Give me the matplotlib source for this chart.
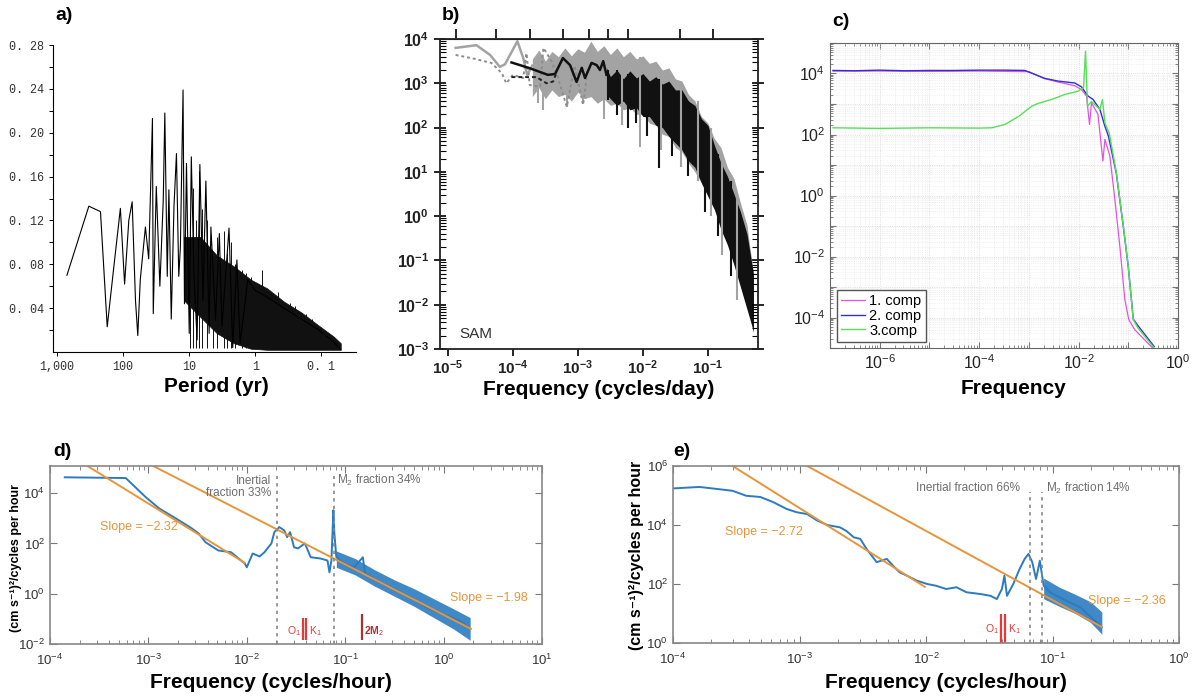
import matplotlib
matplotlib.use('Agg')
import matplotlib.pyplot as plt
import numpy as np
from matplotlib.ticker import LogLocator, NullLocator, NullFormatter, FixedLocator

plt.rcParams['font.family'] = ['Liberation Sans', 'DejaVu Sans']
plt.rcParams['mathtext.fontset'] = 'custom'
plt.rcParams['mathtext.rm'] = 'Liberation Sans'
plt.rcParams['mathtext.it'] = 'Liberation Sans:italic'
plt.rcParams['mathtext.bf'] = 'Liberation Sans:bold'

# ---------------- panel a: period (yr) vs power ----------------
a_period = [708, 330, 220, 174, 138, 110, 95, 82, 73, 65, 60, 55, 46, 41, 36, 35, 31.5,
            27.8, 24.7, 23.4, 21.5, 20.3, 18.7, 17, 15.6, 14.4, 13.6, 12.4, 11.8, 11, 10,
            9.3, 8.5, 7.6, 6.9, 6.2, 5.6, 5.0, 4.7, 4.0, 3.5, 3.2, 2.5, 2.2, 1.9, 1.7, 1.3,
            1.0, 0.66, 0.37, 0.2, 0.115, 0.065, 0.051]
a_power = [0.070, 0.133, 0.128, 0.023, 0.078, 0.131, 0.062, 0.120, 0.137, 0.047, 0.015,
           0.066, 0.114, 0.085, 0.213, 0.035, 0.151, 0.060, 0.139, 0.218, 0.069, 0.148,
           0.030, 0.133, 0.181, 0.069, 0.096, 0.239, 0.044, 0.172, 0.017, 0.178, 0.072,
           0.011, 0.171, 0.047, 0.156, 0.017, 0.114, 0.029, 0.108, 0.023, 0.113, 0.004,
           0.084, 0.008, 0.066, 0.056, 0.050, 0.040, 0.030, 0.021, 0.009, 0.002]
# envelope of the dense short-period part
a_env_period = [12, 6.8, 3.8, 2.1, 1.17, 0.66, 0.37, 0.2, 0.115, 0.065, 0.051]
a_env_hi = [0.105, 0.105, 0.088, 0.078, 0.066, 0.058, 0.046, 0.036, 0.025, 0.014, 0.008]
a_env_lo = [0.047, 0.032, 0.017, 0.008, 0.003, 0.002, 0.002, 0.002, 0.002, 0.002, 0.002]
# isolated spikes rising out of the dense part
a_spk_period = [9.8, 8.9, 8.0, 7.2, 6.5, 5.3, 4.4, 3.8, 3.0, 2.7, 2.3, 2.0, 1.6, 1.4,
                1.15, 0.9, 0.8, 0.55, 0.45, 0.3, 0.25, 0.17, 0.14]
a_spk_top = [0.110, 0.150, 0.120, 0.165, 0.130, 0.120, 0.090, 0.105, 0.110, 0.090, 0.100,
             0.080, 0.075, 0.072, 0.068, 0.062, 0.075, 0.052, 0.055, 0.045, 0.042, 0.035,
             0.030]
a_xticks = [1000, 100, 10, 1, 0.1]
a_xlabels = ['1,000', '100', '10', '1', '0. 1']
a_yticks = [0.04, 0.08, 0.12, 0.16, 0.20, 0.24, 0.28]
a_ylabels = ['0. 04', '0. 08', '0. 12', '0. 16', '0. 20', '0. 24', '0. 28']
a_yminor = [0.02, 0.06, 0.10, 0.14, 0.18, 0.22, 0.26]

# ---------------- panel b: SAM spectra (log10 values) ----------------
b_gray_lf = [-4.88, -4.56, -4.35, -4.20, -4.12, -3.93, -3.84, -3.78, -3.70]
b_gray_lp = [3.80, 3.86, 3.64, 3.37, 3.43, 3.95, 3.57, 3.19, 3.40]
b_gray_env_lf = [-3.70, -3.60, -3.50, -3.40, -3.30, -3.20, -3.10, -3.00, -2.90, -2.80,
                 -2.70, -2.60, -2.50, -2.40, -2.30, -2.20, -2.10, -2.00, -1.90, -1.80,
                 -1.70, -1.60, -1.50, -1.40, -1.30, -1.20, -1.10, -1.00, -0.90, -0.80,
                 -0.70, -0.60, -0.50, -0.40, -0.30]
b_gray_env_hi = [3.55, 3.75, 3.50, 3.72, 3.60, 3.80, 3.62, 3.78, 3.70, 3.95, 3.72, 3.85,
                 3.65, 3.80, 3.60, 3.72, 3.55, 3.62, 3.45, 3.50, 3.30, 3.35, 3.10, 3.05,
                 2.75, 2.60, 2.25, 2.10, 1.75, 1.55, 1.10, 0.85, 0.30, -0.20, -1.30]
b_gray_env_lo = [2.70, 2.90, 2.65, 2.85, 2.70, 2.75, 2.60, 2.80, 2.65, 2.70, 2.55, 2.65,
                 2.50, 2.55, 2.40, 2.45, 2.30, 2.30, 2.10, 2.05, 1.85, 1.80, 1.55, 1.45,
                 1.20, 1.00, 0.75, 0.45, 0.15, -0.20, -0.55, -0.90, -1.40, -1.90, -2.65]
b_dot_lf = [-4.88, -4.61, -4.33, -4.17, -4.10, -4.00, -3.84, -3.79, -3.74, -3.58, -3.53,
            -3.40, -3.30, -3.17, -3.05, -2.92, -2.85]
b_dot_lp = [3.64, 3.56, 3.46, 3.23, 3.00, 3.19, 3.12, 3.68, 2.96, 2.92, 3.80, 3.49, 3.10,
            2.47, 3.40, 2.51, 3.30]
b_black_lf = [-4.02, -3.74, -3.46, -3.35, -3.23, -3.12, -3.02, -2.94, -2.89, -2.79, -2.71,
              -2.66, -2.61, -2.56]
b_black_lp = [3.47, 3.34, 3.19, 3.21, 3.57, 3.41, 3.03, 3.35, 3.12, 3.46, 3.41, 3.30,
              3.50, 3.19]
b_black_env_lf = [-2.56, -2.50, -2.40, -2.30, -2.20, -2.10, -2.00, -1.90, -1.80, -1.70,
                  -1.60, -1.50, -1.40, -1.30, -1.20, -1.10, -1.00, -0.90, -0.80, -0.70,
                  -0.60, -0.50, -0.40, -0.30]
b_black_env_hi = [3.35, 3.15, 3.30, 3.10, 3.28, 3.12, 3.22, 3.05, 3.15, 2.98, 3.05, 2.85,
                  2.85, 2.60, 2.50, 2.20, 2.05, 1.60, 1.20, 0.90, 0.50, 0.10, -0.40, -1.30]
b_black_env_lo = [2.75, 2.65, 2.50, 2.60, 2.40, 2.45, 2.25, 2.25, 2.05, 2.00, 1.80, 1.65,
                  1.50, 1.25, 1.10, 0.75, 0.45, 0.15, -0.30, -0.65, -1.10, -1.60, -2.10,
                  -2.60]
b_dash_lf = [-4.02, -3.64, -3.48, -3.38, -3.34]
b_dash_lp = [3.14, 3.14, 3.00, 3.04, 3.20]
b_gray_spk_lf = [-3.62, -3.54, -3.17, -2.92, -2.60, -2.32, -2.05, -1.72, -1.42, -1.15,
                 -0.95, -0.79, -0.55]
b_gray_spk_lo = [2.55, 2.40, 2.47, 2.55, 2.20, 2.05, 1.57, 1.50, 1.10, 0.80, 0.00, -0.88,
                 -1.90]
b_gray_spk_hi = [3.50, 3.60, 3.70, 3.70, 3.60, 3.50, 3.60, 3.30, 3.00, 2.60, 2.00, 1.30,
                 0.50]
b_black_spk_lf = [-2.54, -2.40, -2.23, -2.10, -1.93, -1.75, -1.55, -1.30, -1.05, -0.85,
                  -0.65]
b_black_spk_lo = [2.62, 2.28, 1.98, 2.10, 1.80, 1.09, 1.35, 0.90, 0.10, -0.45, -1.35]
b_black_spk_hi = [3.30, 3.30, 3.20, 3.10, 3.10, 3.10, 2.90, 2.60, 2.00, 1.40, 0.80]
b_top_ticks = [1.32e-5, 5.6e-5, 1.82e-4, 5.9e-4, 1.48e-3, 2.88e-3, 6.0e-3, 3.7e-2, 0.12]

# ---------------- panel c: three components (log10 values) ----------------
c1_logf = [-6.94, -6.0, -5.0, -4.0, -3.0, -2.7, -2.41, -2.08, -1.94, -1.84, -1.78, -1.74,
           -1.61, -1.51, -1.47, -1.37, -1.27, -1.17, -1.07, -0.99, -0.87, -0.51]
c1_logp = [4.08, 4.08, 4.07, 4.08, 4.06, 3.84, 3.72, 3.60, 3.47, 3.26, 2.33, 3.04, 2.66,
           1.13, 1.84, 1.29, -0.13, -1.66, -3.41, -4.07, -4.40, -5.0]
c2_logf = [-6.94, -6.5, -6.0, -5.5, -5.0, -4.5, -4.0, -3.5, -3.08, -2.88, -2.68, -2.41,
           -2.08, -1.94, -1.81, -1.71, -1.57, -1.47, -1.40, -1.24, -1.10, -1.00, -0.90,
           -0.80, -0.48]
c2_logp = [4.10, 4.09, 4.11, 4.09, 4.10, 4.10, 4.11, 4.11, 4.10, 3.97, 3.84, 3.75, 3.69,
           3.56, 3.26, 3.15, 2.82, 2.27, 1.95, 0.72, -1.02, -2.34, -4.05, -4.28, -4.95]
c3_logf = [-6.94, -6.0, -5.0, -4.0, -3.74, -3.48, -3.20, -2.94, -2.81, -2.54, -2.28, -2.01,
           -1.90, -1.86, -1.82, -1.74, -1.57, -1.52, -1.47, -1.38, -1.24, -1.10, -1.00,
           -0.90, -0.81, -0.48]
c3_logp = [2.22, 2.20, 2.22, 2.21, 2.22, 2.33, 2.60, 2.93, 3.02, 3.15, 3.31, 3.42, 3.54,
           4.73, 2.93, 3.08, 2.82, 3.15, 2.38, 2.03, 0.75, -1.00, -2.32, -4.07, -4.33, -5.0]
c_names = ['1. comp', '2. comp', '3.comp']

# ---------------- panel d (log10 values) ----------------
d_lf = [-3.85, -3.23, -3.03, -2.89, -2.69, -2.56, -2.49, -2.42, -2.29, -2.16, -2.02, -2.00,
        -1.94, -1.87, -1.82, -1.75, -1.72, -1.67, -1.62, -1.59, -1.56, -1.52, -1.48, -1.41,
        -1.35, -1.25, -1.18, -1.16, -1.14, -1.12, -1.11, -1.09, -1.01, -0.91, -0.82, -0.80,
        -0.68, -0.51, -0.34, -0.17, -0.01, 0.16, 0.26]
d_lp = [4.63, 4.60, 3.85, 3.39, 2.92, 2.60, 2.40, 2.05, 1.72, 1.65, 1.20, 1.05, 1.60, 1.48,
        1.65, 2.00, 2.45, 2.65, 2.52, 2.25, 2.45, 1.85, 1.80, 2.00, 1.45, 1.40, 1.32, 0.85,
        1.32, 3.32, 2.40, 1.45, 1.19, 1.05, 1.45, 0.83, 0.52, 0.20, -0.15, -0.55, -0.81,
        -1.08, -1.35]
d_band_lf = [-1.09, -0.90, -0.70, -0.50, -0.30, -0.10, 0.10, 0.27]
d_band_hi = [1.70, 1.40, 0.95, 0.55, 0.20, -0.20, -0.60, -0.95]
d_band_lo = [1.05, 0.75, 0.30, -0.10, -0.50, -0.95, -1.40, -1.85]
d_fit1_f, d_fit1_p = [2.4e-4, 9.5e-3], [1.2e5, 17]
d_fit2_f, d_fit2_p = [1.12e-3, 1.9], [1.2e5, 0.04]
d_inertial, d_m2 = 0.0205, 0.077
d_o1, d_k1, d_2m2 = 0.037, 0.040, 0.148

# ---------------- panel e (log10 values) ----------------
e_lf = [-4.00, -3.79, -3.53, -3.42, -3.31, -3.21, -3.10, -3.02, -2.94, -2.86, -2.78, -2.68,
        -2.63, -2.57, -2.52, -2.47, -2.39, -2.31, -2.26, -2.21, -2.15, -2.07, -1.99, -1.92,
        -1.84, -1.76, -1.68, -1.57, -1.49, -1.44, -1.40, -1.38, -1.36, -1.31, -1.26, -1.22,
        -1.19, -1.16, -1.13, -1.10, -1.07, -1.02, -0.89, -0.78, -0.68, -0.61]
e_lp = [5.24, 5.29, 5.16, 4.99, 4.95, 4.78, 4.54, 4.43, 4.37, 4.15, 4.00, 3.92, 3.80, 3.58,
        3.53, 3.19, 2.74, 2.85, 2.62, 2.40, 2.28, 2.11, 2.00, 1.94, 1.83, 1.89, 1.72, 1.66,
        1.60, 1.49, 1.83, 2.28, 1.60, 2.00, 2.51, 2.85, 3.02, 2.74, 2.17, 2.79, 1.94, 1.72,
        1.43, 1.21, 0.81, 0.53]
e_band_lf = [-1.07, -0.95, -0.82, -0.70, -0.61]
e_band_hi = [2.20, 1.90, 1.65, 1.40, 1.05]
e_band_lo = [1.50, 1.25, 1.00, 0.70, 0.30]
e_fit1_f, e_fit1_p = [2.96e-4, 9.8e-3], [1e6, 80]
e_fit2_f, e_fit2_p = [1.15e-3, 0.245], [1e6, 3.5]
e_inertial, e_m2 = 0.067, 0.083
e_o1, e_k1 = 0.039, 0.042

# colours
BLUE_DE = '#2b7bc0'
ORANGE = '#e8953a'
GREY_TXT = '#6e6e6e'
RED = '#e23b3b'
DARK_RED = '#b0302e'

W, H = 1200, 699


def box(l, t, r, b):
    return [l / W, 1 - b / H, (r - l) / W, (b - t) / H]


def ftext(px, py, s, **kw):
    fig.text(px / W, 1 - py / H, s, **kw)


def p10(v):
    return 10.0 ** np.asarray(v)


def log_labels(exps, bold=False, skip_odd=False):
    out = []
    for e in exps:
        if skip_odd and e % 2:
            out.append('')
        elif bold:
            out.append(r'$\mathbf{10^{%d}}$' % e)
        else:
            out.append(r'$10^{%d}$' % e)
    return out


fig = plt.figure(figsize=(12, 6.99), dpi=100)

# ===== a =====
ax_a = fig.add_axes(box(53, 45, 356, 352))
ax_a.fill_between(a_env_period, a_env_lo, a_env_hi, color='#111111', lw=0.5)
ax_a.vlines(a_spk_period, 0.004, a_spk_top, color='#111111', lw=0.7)
ax_a.plot(a_period, a_power, color='k', lw=0.8)
ax_a.set_xscale('log')
ax_a.set_xlim(1150, 0.03)
ax_a.set_ylim(0, 0.28)
for s in ('top', 'right'):
    ax_a.spines[s].set_visible(False)
ax_a.set_xticks(a_xticks, labels=a_xlabels)
ax_a.xaxis.set_minor_locator(NullLocator())
ax_a.set_yticks(a_yticks, labels=a_ylabels)
ax_a.yaxis.set_minor_locator(FixedLocator(a_yminor))
ax_a.tick_params(which='both', direction='out', length=3, width=0.7, labelsize=8.5,
                 labelcolor='#333333')
for lab in ax_a.get_xticklabels() + ax_a.get_yticklabels():
    lab.set_family('Liberation Mono')
ftext(216, 387, 'Period (yr)', fontsize=15, fontweight='bold', ha='center', va='center')
ftext(55, 16, 'a)', fontsize=14, fontweight='bold', va='center')

# ===== b =====
ax_b = fig.add_axes(box(440, 39, 758, 349))
ax_b.set_xscale('log')
ax_b.set_yscale('log')
ax_b.fill_between(p10(b_gray_env_lf), p10(b_gray_env_lo), p10(b_gray_env_hi),
                  color='#a3a3a3', lw=0)
ax_b.vlines(p10(b_gray_spk_lf), p10(b_gray_spk_lo), p10(b_gray_spk_hi), color='#a3a3a3', lw=1.5)
ax_b.plot(p10(b_gray_lf), p10(b_gray_lp), color='#a3a3a3', lw=1.8)
ax_b.plot(p10(b_dot_lf), p10(b_dot_lp), color='#8c8c8c', lw=1.4, ls=(0, (1.5, 1.5)))
ax_b.fill_between(p10(b_black_env_lf), p10(b_black_env_lo), p10(b_black_env_hi),
                  color='#111111', lw=0)
ax_b.vlines(p10(b_black_spk_lf), p10(b_black_spk_lo), p10(b_black_spk_hi), color='#111111', lw=1.5)
ax_b.plot(p10(b_black_lf), p10(b_black_lp), color='#111111', lw=1.8)
ax_b.plot(p10(b_dash_lf), p10(b_dash_lp), color='#222222', lw=1.4, ls=(0, (2, 1.5)))
ax_b.set_xlim(10 ** -5.12, 10 ** -0.23)
ax_b.set_ylim(1e-3, 1e4)
ax_b.set_xticks(p10(range(-5, 0)), labels=log_labels(range(-5, 0), bold=True))
ax_b.xaxis.set_minor_locator(NullLocator())
ax_b.set_yticks(p10(range(-3, 5)), labels=log_labels(range(-3, 5), bold=True))
ax_b.yaxis.set_minor_locator(LogLocator(base=10, subs=np.arange(2, 10), numticks=60))
ax_b.yaxis.set_minor_formatter(NullFormatter())
ax_b.tick_params(axis='y', which='major', direction='inout', length=9, width=1.2,
                 left=True, right=True, labelsize=11.5, labelcolor='#222222')
ax_b.tick_params(axis='y', which='minor', direction='in', length=4, width=0.8,
                 left=True, right=True)
ax_b.tick_params(axis='x', which='major', direction='out', length=5, width=1.2,
                 top=False, labelsize=11, labelcolor='#222222', pad=2)
for s in ax_b.spines.values():
    s.set_linewidth(1.3)
    s.set_color('#222222')
sec = ax_b.secondary_xaxis('top')
sec.set_xticks(b_top_ticks)
sec.set_xticklabels([])
sec.xaxis.set_minor_locator(NullLocator())
sec.tick_params(direction='out', length=7, width=1.2)
ax_b.text(0.06, 0.035, 'SAM', transform=ax_b.transAxes, fontsize=11, color='#333333')
ftext(599, 390, 'Frequency (cycles/day)', fontsize=15, fontweight='bold', ha='center',
      va='center')
ftext(442, 16, 'b)', fontsize=14, fontweight='bold', va='center')

# ===== c =====
ax_c = fig.add_axes(box(830, 43, 1178, 348))
ax_c.set_xscale('log')
ax_c.set_yscale('log')
l1, = ax_c.plot(p10(c1_logf), p10(c1_logp), color='#e055e0', lw=0.9)
l2, = ax_c.plot(p10(c2_logf), p10(c2_logp), color='#2f2fd8', lw=1.0)
l3, = ax_c.plot(p10(c3_logf), p10(c3_logp), color='#55e055', lw=1.0)
ax_c.set_xlim(1.15e-7, 1.0)
ax_c.set_ylim(1e-5, 1e5)
ax_c.set_xticks(p10(range(-7, 1)), labels=log_labels(range(-7, 1), skip_odd=True))
ax_c.set_yticks(p10(range(-5, 6)), labels=log_labels(range(-5, 6), skip_odd=True))
for axis in (ax_c.xaxis, ax_c.yaxis):
    axis.set_minor_locator(LogLocator(base=10, subs=np.arange(2, 10), numticks=100))
    axis.set_minor_formatter(NullFormatter())
ax_c.tick_params(which='both', direction='in', top=True, right=True, labelsize=11.5,
                 labelcolor='#222222', color='#777777')
ax_c.tick_params(which='major', length=4)
ax_c.tick_params(which='minor', length=2)
ax_c.grid(True, which='major', color='#d5d5d5', lw=0.6, ls=':')
ax_c.grid(True, which='minor', color='#e4e4e4', lw=0.5, ls=':')
for s in ax_c.spines.values():
    s.set_color('#666666')
    s.set_linewidth(0.8)
ax_c.legend([l1, l2, l3], c_names, loc='lower left', bbox_to_anchor=(0.02, 0.02),
            borderaxespad=0, fontsize=10.5, handlelength=1.6, handletextpad=0.3,
            labelspacing=0.05, borderpad=0.3, fancybox=False, edgecolor='#555555',
            framealpha=1)
ftext(1013, 389, 'Frequency', fontsize=15, fontweight='bold', ha='center', va='center')
ftext(832, 21, 'c)', fontsize=14, fontweight='bold', va='center')


def style_de(ax, xexps, yexps):
    ax.set_xticks(p10(xexps), labels=log_labels(xexps))
    ax.xaxis.set_minor_locator(LogLocator(base=10, subs=np.arange(2, 10), numticks=60))
    ax.xaxis.set_minor_formatter(NullFormatter())
    ax.set_yticks(p10(yexps), labels=log_labels(yexps))
    ax.yaxis.set_minor_locator(NullLocator())
    ax.tick_params(which='both', direction='in', top=True, right=True, labelsize=9.5,
                   labelcolor='#333333', color='#777777')
    ax.tick_params(which='major', length=5)
    ax.tick_params(which='minor', length=3)
    ax.tick_params(axis='x', pad=6)
    for s in ax.spines.values():
        s.set_color('#888888')
        s.set_linewidth(1.2)


# ===== d =====
ax_d = fig.add_axes(box(50, 466, 542, 644))
ax_d.set_xscale('log')
ax_d.set_yscale('log')
ax_d.fill_between(p10(d_band_lf), p10(d_band_lo), p10(d_band_hi), color=BLUE_DE, lw=0,
                  alpha=0.9)
ax_d.plot(p10(d_lf), p10(d_lp), color=BLUE_DE, lw=1.4)
ax_d.plot(d_fit1_f, d_fit1_p, color=ORANGE, lw=1.4)
ax_d.plot(d_fit2_f, d_fit2_p, color=ORANGE, lw=1.4)
ax_d.vlines([d_inertial, d_m2], 1e-2, 10 ** 4.68, colors='#888888', lw=1.2,
            linestyles=(0, (2, 2.5)))
ax_d.vlines([d_o1, d_k1], 10 ** -1.84, 10 ** -0.95, colors=RED, lw=1.6)
ax_d.vlines([d_2m2], 10 ** -1.84, 10 ** -0.8, colors=DARK_RED, lw=1.6)
ax_d.set_xlim(1e-4, 10)
ax_d.set_ylim(1e-2, 1.2e5)
style_de(ax_d, list(range(-4, 2)), [-2, 0, 2, 4])
ax_d.text(0.0178, 10 ** 4.24, 'Inertial\nfraction 33%', ha='right', va='center',
          fontsize=8.5, color=GREY_TXT, linespacing=1.0)
ax_d.text(0.083, 10 ** 4.52, r'M$_2$ fraction 34%', ha='left', va='center', fontsize=8.5,
          color=GREY_TXT)
ax_d.text(3.2e-4, 10 ** 2.64, 'Slope = \u22122.32', ha='left', va='center', fontsize=9,
          color=ORANGE)
ax_d.text(1.15, 10 ** -0.16, 'Slope = \u22121.98', ha='left', va='center', fontsize=9,
          color=ORANGE)
ax_d.text(0.0355, 10 ** -1.48, r'O$_1$', ha='right', va='center', fontsize=7.5, color=RED)
ax_d.text(0.043, 10 ** -1.48, r'K$_1$', ha='left', va='center', fontsize=7.5, color=RED)
ax_d.text(0.156, 10 ** -1.48, r'2M$_2$', ha='left', va='center', fontsize=7.5,
          color=DARK_RED, fontweight='bold')
ftext(16, 558, '(cm s\u207b\u00b9)\u00b2/cycles per hour', rotation=90, fontsize=9,
      fontweight='bold', ha='center', va='center')
ftext(271, 683, 'Frequency (cycles/hour)', fontsize=15, fontweight='bold', ha='center',
      va='center')
ftext(53, 451, 'd)', fontsize=14, fontweight='bold', va='center')

# ===== e =====
ax_e = fig.add_axes(box(673, 466, 1179, 643))
ax_e.set_xscale('log')
ax_e.set_yscale('log')
ax_e.fill_between(p10(e_band_lf), p10(e_band_lo), p10(e_band_hi), color=BLUE_DE, lw=0,
                  alpha=0.9)
ax_e.plot(p10(e_lf), p10(e_lp), color=BLUE_DE, lw=1.4)
ax_e.plot(e_fit1_f, e_fit1_p, color=ORANGE, lw=1.4)
ax_e.plot(e_fit2_f, e_fit2_p, color=ORANGE, lw=1.4)
ax_e.vlines([e_inertial, e_m2], 1, 10 ** 5.12, colors='#888888', lw=1.2,
            linestyles=(0, (2, 2.5)))
ax_e.vlines([e_o1, e_k1], 1, 10 ** 0.98, colors=RED, lw=1.6)
ax_e.set_xlim(1e-4, 1)
ax_e.set_ylim(1, 1e6)
style_de(ax_e, list(range(-4, 1)), [0, 2, 4, 6])
ax_e.text(0.055, 10 ** 5.25, 'Inertial fraction 66%', ha='right', va='center', fontsize=8.5,
          color=GREY_TXT)
ax_e.text(0.089, 10 ** 5.25, r'M$_2$ fraction 14%', ha='left', va='center', fontsize=8.5,
          color=GREY_TXT)
ax_e.text(2.6e-4, 10 ** 3.76, 'Slope = \u22122.72', ha='left', va='center', fontsize=9,
          color=ORANGE)
ax_e.text(0.19, 10 ** 1.42, 'Slope = \u22122.36', ha='left', va='center', fontsize=9,
          color=ORANGE)
ax_e.text(0.0375, 10 ** 0.47, r'O$_1$', ha='right', va='center', fontsize=7.5, color=RED)
ax_e.text(0.0445, 10 ** 0.47, r'K$_1$', ha='left', va='center', fontsize=7.5, color=RED)
ftext(637, 555, '(cm s\u207b\u00b9)\u00b2/cycles per hour', rotation=90, fontsize=11.5,
      fontweight='bold', ha='center', va='center')
ftext(946, 683, 'Frequency (cycles/hour)', fontsize=15, fontweight='bold', ha='center',
      va='center')
ftext(673, 451, 'e)', fontsize=14, fontweight='bold', va='center')

fig.savefig('out.png', dpi=100)
